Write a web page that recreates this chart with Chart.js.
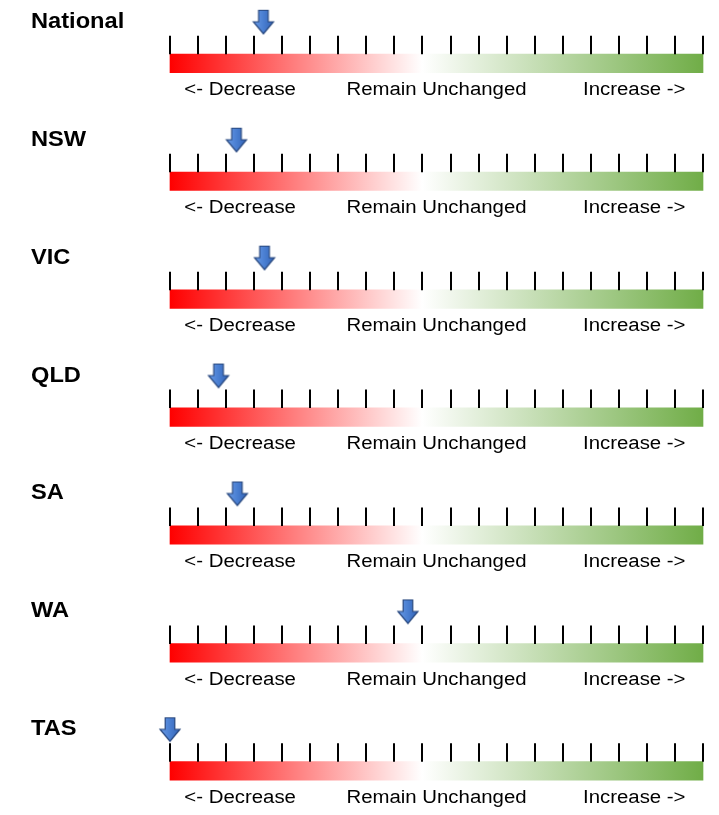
<!DOCTYPE html>
<html>
<head>
<meta charset="utf-8">
<script src="https://cdn.jsdelivr.net/npm/chart.js@4.4.1/dist/chart.umd.min.js"></script>
<style>
html,body{margin:0;padding:0;background:#fff;}
canvas{display:block;}
</style>
</head>
<body>
<canvas id="c" width="719" height="815"></canvas>
<script>
// ---- data ----
const regions = ['National', 'NSW', 'VIC', 'QLD', 'SA', 'WA', 'TAS'];
const sentiment = [3.33, 2.37, 3.37, 1.73, 2.4, 8.48, 0.0];
const scaleMin = 0;
const scaleMax = 19;
const tickValues = [0,1,2,3,4,5,6,7,8,9,10,11,12,13,14,15,16,17,18,19];
const scaleLabels = ['<- Decrease', 'Remain Unchanged', 'Increase ->'];
const scaleLabelAt = [2.5, 9.5, 16.55];

// ---- arrow marker image ----
function makeArrow() {
  const c = document.createElement('canvas');
  c.width = 24; c.height = 109;
  const g = c.getContext('2d');
  const cx = 12;
  g.beginPath();
  g.moveTo(cx - 4.8, 1.5);
  g.lineTo(cx + 4.8, 1.5);
  g.lineTo(cx + 4.8, 13);
  g.lineTo(cx + 10, 13);
  g.lineTo(cx, 25);
  g.lineTo(cx - 10, 13);
  g.lineTo(cx - 4.8, 13);
  g.closePath();
  const gr = g.createLinearGradient(cx - 10, 0, cx + 10, 0);
  gr.addColorStop(0, '#6a9be6');
  gr.addColorStop(0.5, '#4a7fd2');
  gr.addColorStop(1, '#3262b4');
  g.fillStyle = gr;
  g.fill();
  g.lineWidth = 1.2;
  g.strokeStyle = '#27477e';
  g.stroke();
  return c;
}
const arrowImg = makeArrow();

function barGradient(ctx) {
  const chart = ctx.chart;
  const a = chart.chartArea;
  if (!a) return '#fff';
  const gr = chart.ctx.createLinearGradient(a.left, 0, a.right, 0);
  gr.addColorStop(0, '#ff0000');
  gr.addColorStop(0.473, '#ffffff');
  gr.addColorStop(1, '#70ad47');
  return gr;
}

function stretchedText(ctx, text, x, y, align, sx) {
  ctx.save();
  ctx.translate(x, y);
  ctx.scale(sx, 1);
  ctx.textAlign = align;
  ctx.fillText(text, 0, 0);
  ctx.restore();
}

const decorPlugin = {
  id: 'decor',
  afterDatasetsDraw(chart) {
    const ctx = chart.ctx;
    const xs = chart.scales.x, ys = chart.scales.y;
    ctx.save();
    regions.forEach((r, i) => {
      const yc = ys.getPixelForValue(i);
      // tick marks
      ctx.strokeStyle = '#000';
      ctx.lineWidth = 2;
      tickValues.forEach(v => {
        let x = Math.round(xs.getPixelForValue(v));
        ctx.beginPath();
        ctx.moveTo(x, yc - 27.5);
        ctx.lineTo(x, yc - 9);
        ctx.stroke();
      });
      // region name
      ctx.fillStyle = '#000';
      ctx.textBaseline = 'middle';
      ctx.font = 'bold 21.8px "Liberation Sans", Arial, sans-serif';
      stretchedText(ctx, r, 31, yc - 41.5, 'left', 1.085);
      // scale labels
      ctx.font = '18.8px "Liberation Sans", Arial, sans-serif';
      scaleLabels.forEach((t, k) => {
        stretchedText(ctx, t, xs.getPixelForValue(scaleLabelAt[k]), yc + 27, 'center', 1.085);
      });
    });
    ctx.restore();
  }
};

new Chart(document.getElementById('c'), {
  data: {
    labels: regions,
    datasets: [
      {
        type: 'bar',
        indexAxis: 'y',
        data: regions.map(() => [scaleMin, scaleMax]),
        backgroundColor: barGradient,
        borderWidth: 0,
        barThickness: 18.5,
        clip: false,
        order: 2
      },
      {
        type: 'scatter',
        data: sentiment.map((v, i) => ({x: v, y: regions[i]})),
        pointStyle: arrowImg,
        pointRadius: 10,
        clip: false,
        order: 1
      }
    ]
  },
  options: {
    responsive: false,
    animation: false,
    devicePixelRatio: 1,
    events: [],
    layout: {padding: {left: 170, right: 16, top: 63.3, bottom: 44.2}},
    plugins: {legend: {display: false}, tooltip: {enabled: false}},
    scales: {
      x: {type: 'linear', min: scaleMin, max: scaleMax, display: false},
      y: {type: 'category', labels: regions, offset: false, display: false}
    }
  },
  plugins: [decorPlugin]
});
</script>
</body>
</html>
